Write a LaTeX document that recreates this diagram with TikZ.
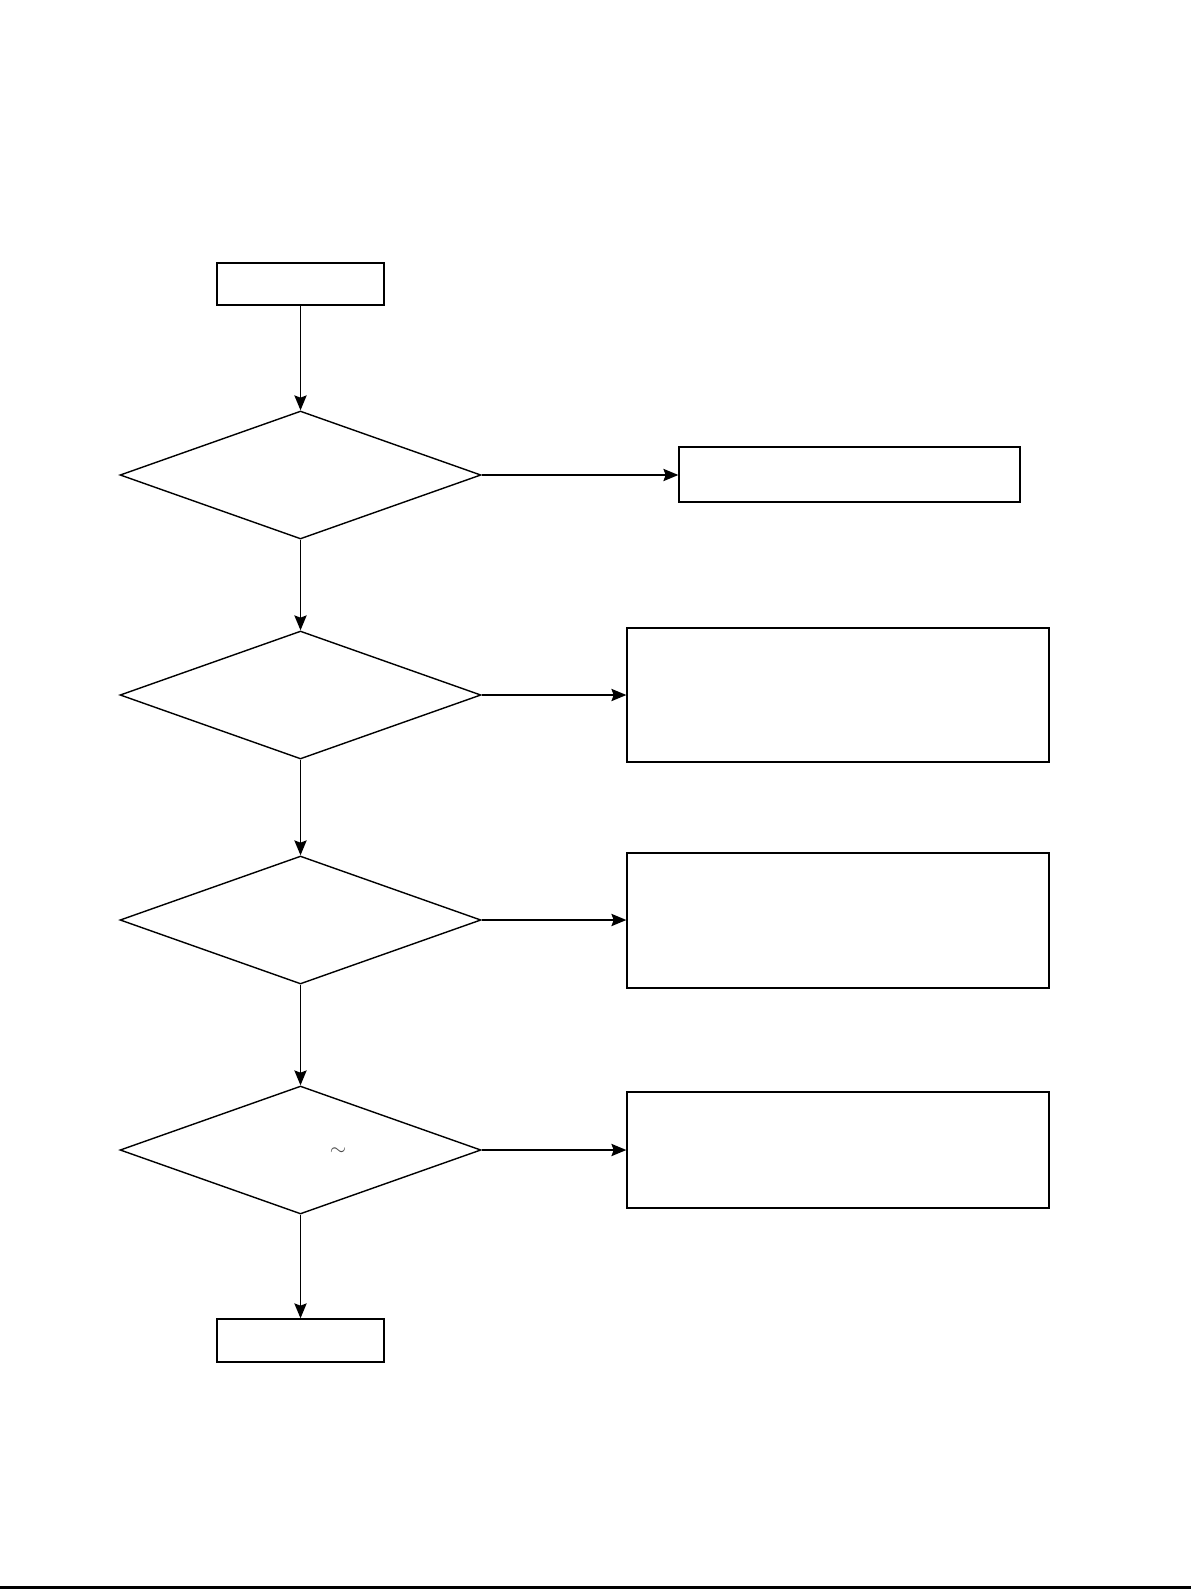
\documentclass[tikz,border=0pt]{standalone}
\usetikzlibrary{shapes.geometric,arrows.meta}
\tikzset{
	blocco/.style={draw, line width=0.8pt, inner sep=0pt},
	rombo/.style={draw, diamond, line width=0.8pt, inner sep=0pt, minimum width=7.22cm, minimum height=2.56cm},
	freccia/.style={-{Stealth[length=8.5pt,width=7pt,inset=1.3pt]}, line width=0.8pt}
}
\begin{document}
\begin{tikzpicture}[x=0.02cm, y=-0.02cm]
		\useasboundingbox (0,0) rectangle (1191,1589);

		\node[blocco, minimum width=3.34cm, minimum height=0.84cm] (inizio) at (300.5, 284) {};
		\node[blocco, minimum width=3.34cm, minimum height=0.86cm] (fine) at (300.5, 1340.5) {};

		\node[rombo] (r1) at (300.5, 475) {};
		\node[rombo] (r2) at (300.5, 695) {};
		\node[rombo] (r3) at (300.5, 920) {};
		\node[rombo] (r4) at (300.5, 1150) {};

		\node[blocco, minimum width=6.82cm, minimum height=1.1cm] (b1) at (849.5, 474.5) {};
		\node[blocco, minimum width=8.44cm, minimum height=2.68cm] (b2) at (838, 695) {};
		\node[blocco, minimum width=8.44cm, minimum height=2.7cm] (b3) at (838, 920.5) {};
		\node[blocco, minimum width=8.44cm, minimum height=2.32cm] (b4) at (838, 1150) {};

		\node[text=black!70, scale=1.2] (tilde) at (338, 1152) {$\sim$};

		\draw[freccia] (inizio) -- (r1);
		\draw[freccia] (r1) -- (r2);
		\draw[freccia] (r2) -- (r3);
		\draw[freccia] (r3) -- (r4);
		\draw[freccia] (r4) -- (fine);

		\draw[freccia] (r1.east) -- (r1.east -| b1.west);
		\draw[freccia] (r2.east) -- (r2.east -| b2.west);
		\draw[freccia] (r3.east) -- (r3.east -| b3.west);
		\draw[freccia] (r4.east) -- (r4.east -| b4.west);

		\draw[line width=1.2pt] (0, 1587.5) -- (1191, 1587.5);
	\end{tikzpicture}
\end{document}
